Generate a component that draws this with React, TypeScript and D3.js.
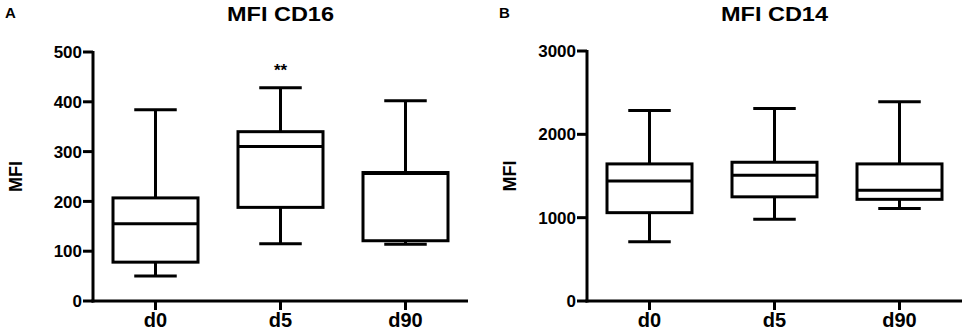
import * as d3 from 'd3';

const categories = ['d0', 'd5', 'd90'];

// [min, q1, median, q3, max]
const cd16Values = [
  [50, 78, 155, 207, 384],
  [115, 188, 310, 340, 428],
  [114, 121, 256, 258, 402],
];
const cd16Ticks = [0, 100, 200, 300, 400, 500];

const cd14Values = [
  [710, 1060, 1440, 1645, 2285],
  [980, 1250, 1510, 1665, 2310],
  [1110, 1220, 1330, 1645, 2390],
];
const cd14Ticks = [0, 1000, 2000, 3000];

const FONT = 'Arial, "Liberation Sans", sans-serif';

function BoxPanel({ letter, title, values, ticks, x0, x1, yTop, yBottom, stars }) {
  const xScale = d3.scaleBand().domain(categories).range([x0, x1]);
  const yScale = d3.scaleLinear().domain([0, ticks[ticks.length - 1]]).range([yBottom, yTop]);
  const bw = xScale.bandwidth();
  const boxW = bw * 0.68;
  const capW = boxW / 2;
  const sw = 3;

  return (
    <g>
      <text x={x0 - 88} y={18} fontSize={15} fontWeight="bold" fontFamily={FONT}>{letter}</text>
      <text x={(x0 + x1) / 2} y={21} textAnchor="middle" fontSize={21} fontWeight="bold" fontFamily={FONT}
        textLength={107} lengthAdjust="spacingAndGlyphs">{title}</text>

      {/* Boxes */}
      {values.map((v, i) => {
        const cx = xScale(categories[i]) + bw / 2;
        const [mn, q1, med, q3, mx] = v.map(yScale);
        return (
          <g key={`box-${i}`} stroke="#000" strokeWidth={sw} fill="none">
            <line x1={cx} x2={cx} y1={mx} y2={q3} />
            <line x1={cx} x2={cx} y1={q1} y2={mn} />
            <line x1={cx - capW / 2} x2={cx + capW / 2} y1={mx} y2={mx} />
            <line x1={cx - capW / 2} x2={cx + capW / 2} y1={mn} y2={mn} />
            <rect x={cx - boxW / 2} y={q3} width={boxW} height={q1 - q3} />
            <line x1={cx - boxW / 2} x2={cx + boxW / 2} y1={med} y2={med} />
          </g>
        );
      })}

      {stars && stars.map((s, i) => s ? (
        <text key={`st-${i}`} x={xScale(categories[i]) + bw / 2} y={yScale(values[i][4]) - 12}
          textAnchor="middle" fontSize={17} fontWeight="bold" fontFamily={FONT}>{s}</text>
      ) : null)}

      {/* Y axis */}
      <line x1={x0} x2={x0} y1={yTop - 1} y2={yBottom + sw / 2} stroke="#000" strokeWidth={sw} />
      {ticks.map((t, i) => (
        <g key={`yt-${i}`} transform={`translate(${x0},${yScale(t)})`}>
          <line x1={-10} x2={0} stroke="#000" strokeWidth={sw} />
          <text x={-11} dy="0.36em" textAnchor="end" fontSize={17} fontWeight="bold" fontFamily={FONT}>{t}</text>
        </g>
      ))}
      <text transform={`translate(${x0 - 71},${(yTop + yBottom) / 2}) rotate(-90)`}
        textAnchor="middle" fontSize={18} fontWeight="bold" fontFamily={FONT}>MFI</text>

      {/* X axis */}
      <line x1={x0 - sw / 2} x2={x1} y1={yBottom} y2={yBottom} stroke="#000" strokeWidth={sw} />
      {categories.map((c, i) => (
        <g key={`xt-${i}`} transform={`translate(${xScale(c) + bw / 2},${yBottom})`}>
          <line y1={0} y2={9} stroke="#000" strokeWidth={sw} />
          <text y={26} textAnchor="middle" fontSize={20} fontWeight="bold" fontFamily={FONT}>{c}</text>
        </g>
      ))}
    </g>
  );
}

export default function App() {
  return (
    <svg width={965} height={332} style={{ position: 'absolute', left: 0, top: 0, background: '#fff' }}>
      <BoxPanel letter="A" title="MFI CD16" values={cd16Values} ticks={cd16Ticks}
        x0={93} x1={468} yTop={52} yBottom={301} stars={['', '**', '']} />
      <BoxPanel letter="B" title="MFI CD14" values={cd14Values} ticks={cd14Ticks}
        x0={587} x1={962} yTop={51} yBottom={301} stars={null} />
    </svg>
  );
}
